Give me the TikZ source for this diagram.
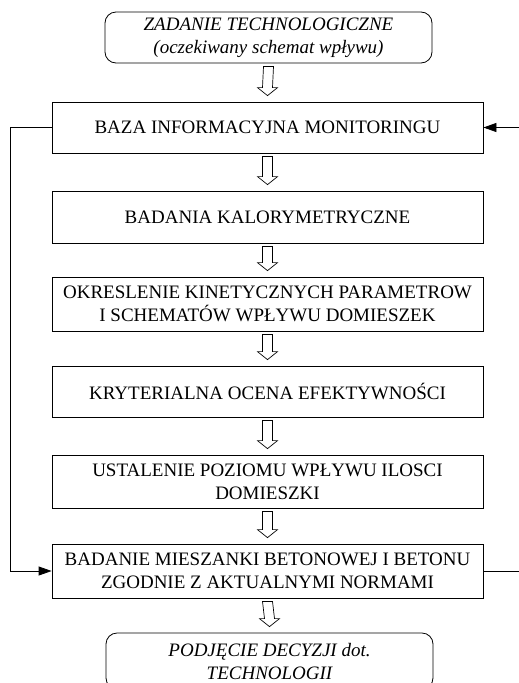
\documentclass[tikz,border=0pt]{standalone}
\usepackage{fontspec}
\setmainfont{Liberation Serif}
\usetikzlibrary{calc,arrows.meta}

\tikzset{
  stage/.style={draw, line width=0.8pt, minimum width=431pt, inner sep=0pt,
    align=center, font=\fontsize{19}{23}\selectfont},
  terminal/.style={draw, rounded corners=11pt, line width=0.8pt, minimum width=327pt,
    inner sep=0pt, align=center, font=\fontsize{19}{23}\selectfont\itshape},
  feedback/.style={line width=0.8pt},
  tip/.style={-{Triangle[length=13pt,width=9pt]}},
}

% hollow block arrow between two stages
\newcommand{\blockarrow}[2]{%
  \draw[line width=0.7pt, fill=white]
    ($(#1.south)+(-5,-3)$) -- ($(#1.south)+(5,-3)$) --
    ($(#2.north)+(5,14)$) -- ($(#2.north)+(10,14)$) --
    ($(#2.north)+(0,6)$) --
    ($(#2.north)+(-10,14)$) -- ($(#2.north)+(-5,14)$) -- cycle;}

\begin{document}
\begin{tikzpicture}[x=1pt, y=1pt]
    \fill[white] (0,0) rectangle (519,-683);
    \clip (0,0) rectangle (519,-683);

    \node[terminal, minimum height=51pt] (task) at (268.5,-37.5)
        {ZADANIE TECHNOLOGICZNE\\(oczekiwany schemat wpływu)};
    \node[stage, minimum height=51pt] (base) at (267.5,-127.5)
        {BAZA INFORMACYJNA MONITORINGU};
    \node[stage, minimum height=52pt] (calor) at (267.5,-217)
        {BADANIA KALORYMETRYCZNE};
    \node[stage, minimum height=54pt] (kinet) at (267.5,-304)
        {OKRESLENIE KINETYCZNYCH PARAMETROW\\I SCHEMATÓW WPŁYWU DOMIESZEK};
    \node[stage, minimum height=51pt] (eval) at (267.5,-391.5)
        {KRYTERIALNA OCENA EFEKTYWNOŚCI};
    \node[stage, minimum height=53pt] (level) at (267.5,-481.5)
        {USTALENIE POZIOMU WPŁYWU ILOSCI\\DOMIESZKI};
    \node[stage, minimum height=54pt] (test) at (267.5,-571)
        {BADANIE MIESZANKI BETONOWEJ I BETONU\\ZGODNIE Z AKTUALNYMI NORMAMI};
    \node[terminal, minimum height=56pt] (decide) at (269.5,-661)
        {PODJĘCIE DECYZJI dot.\\TECHNOLOGII};

    \blockarrow{task}{base}
    \blockarrow{base}{calor}
    \blockarrow{calor}{kinet}
    \blockarrow{kinet}{eval}
    \blockarrow{eval}{level}
    \blockarrow{level}{test}
    \blockarrow{test}{decide}

    % feedback loops
    \coordinate (leftrail) at (10,0);
    \coordinate (rin) at (519,-127.5);
    \coordinate (rout) at (519,-571);
    \draw[feedback, tip] (base.west) -- (base.west -| leftrail)
        -- (test.west -| leftrail) -- (test.west);
    \draw[feedback] (test.east) -- (rout);
    \draw[feedback, tip] (rin) -- (base.east);
\end{tikzpicture}
\end{document}
